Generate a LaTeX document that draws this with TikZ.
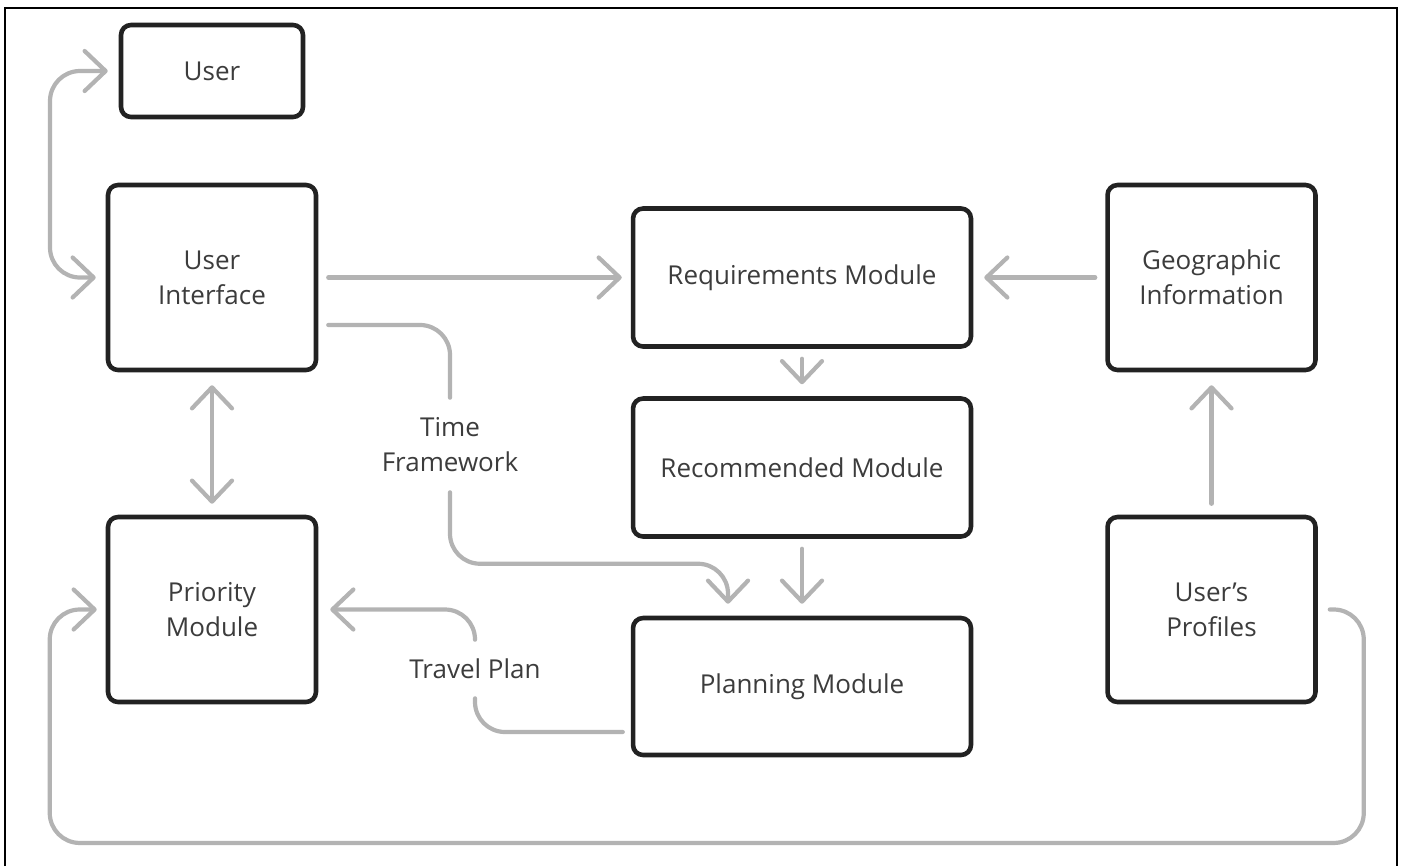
\documentclass[tikz,border=0pt]{standalone}
\usepackage{fontspec}
\setmainfont{Open Sans}
\usetikzlibrary{arrows.meta,positioning}
\definecolor{boxline}{HTML}{222222}
\definecolor{flowgray}{HTML}{B3B3B3}
\definecolor{textgray}{HTML}{3C3C3C}
\tikzset
{
    module/.style = {draw=boxline, fill=white, line width=2.6pt, rounded corners=0.2cm, align=center, text=textgray, font=\fontsize{14.8}{20}\selectfont},
    tallbox/.style = {module, minimum width=4.16cm, minimum height=3.7cm},
    widebox/.style = {module, minimum width=6.76cm, minimum height=2.76cm},
    userbox/.style = {module, minimum width=3.64cm, minimum height=1.84cm},
    flowlabel/.style = {align=center, text=textgray, inner sep=0pt, font=\fontsize{14.8}{20}\selectfont},
    flow/.style = {draw=flowgray, line width=2.4pt, line cap=round, rounded corners=0.6cm},
    gap/.style = {shorten <=0.2cm, shorten >=0.2cm}
}

\begin{document}
\begin{tikzpicture}[x=0.02cm, y=-0.02cm, >={Straight Barb[length=0.42cm, width=0.8cm, round]}]
\useasboundingbox (0,0) rectangle (1403,866);
\draw[line width=1.1pt] (5,866) -- (5,8) -- (1397,8) -- (1397,866);

\node[userbox] (user) at (212,71) {User};
\node[tallbox] (ui) at (212,277.5) {User\\Interface};
\node[widebox] (req) at (802,277.5) {Requirements Module};
\node[tallbox] (geo) at (1211.5,277.5) {Geographic\\Information};
\node[widebox] (rec) at (802,467.5) {Recommended Module};
\node[tallbox] (pri) at (212,609.5) {Priority\\Module};
\node[widebox, minimum height=2.74cm] (plan) at (802,686.5) {Planning Module};
\node[tallbox] (prof) at (1211.5,609.5) {User’s\\Profiles};

\node[flowlabel, minimum height=1.88cm] (tf) at (450,445) {Time\\Framework};
\node[flowlabel, minimum height=1.16cm] (tp) at (475,669) {Travel Plan};

\draw[flow, gap, <->, shorten <=0.22cm] (user.west) -| (50,200) |- (ui.west);
\draw[flow, gap, ->, shorten >=0.18cm] (ui) -- (req);
\draw[flow, gap, ->, shorten >=0.22cm] (geo) -- (req);
\draw[flow, ->, shorten <=0.2cm, shorten >=0.24cm] (req) -- (rec);
\draw[flow, ->, shorten <=0.2cm, shorten >=0.24cm] (rec) -- (plan);
\draw[flow, <->, shorten <=0.26cm, shorten >=0.22cm] (ui) -- (pri);
\draw[flow, ->, shorten <=0.22cm, shorten >=0.26cm] (prof) -- (geo);

\draw[flow, shorten <=0.2cm] ([yshift=-0.95cm]ui.east) -| (tf.north);
\draw[flow, ->, shorten >=0.24cm] (tf.south) |- ([xshift=-1.48cm, yshift=1.04cm]plan.north) -- ([xshift=-1.48cm]plan.north);

\draw[flow, shorten <=0.16cm] ([yshift=-0.91cm]plan.west) -| (tp.south);
\draw[flow, ->, shorten >=0.24cm] (tp.north) |- (pri.east);

\draw[flow, ->, shorten <=0.24cm, shorten >=0.18cm] (prof.east) -| ([xshift=0.92cm, yshift=-4.67cm]prof.east) -| ([xshift=-1.12cm]pri.west) -- (pri.west);
\end{tikzpicture}
\end{document}
